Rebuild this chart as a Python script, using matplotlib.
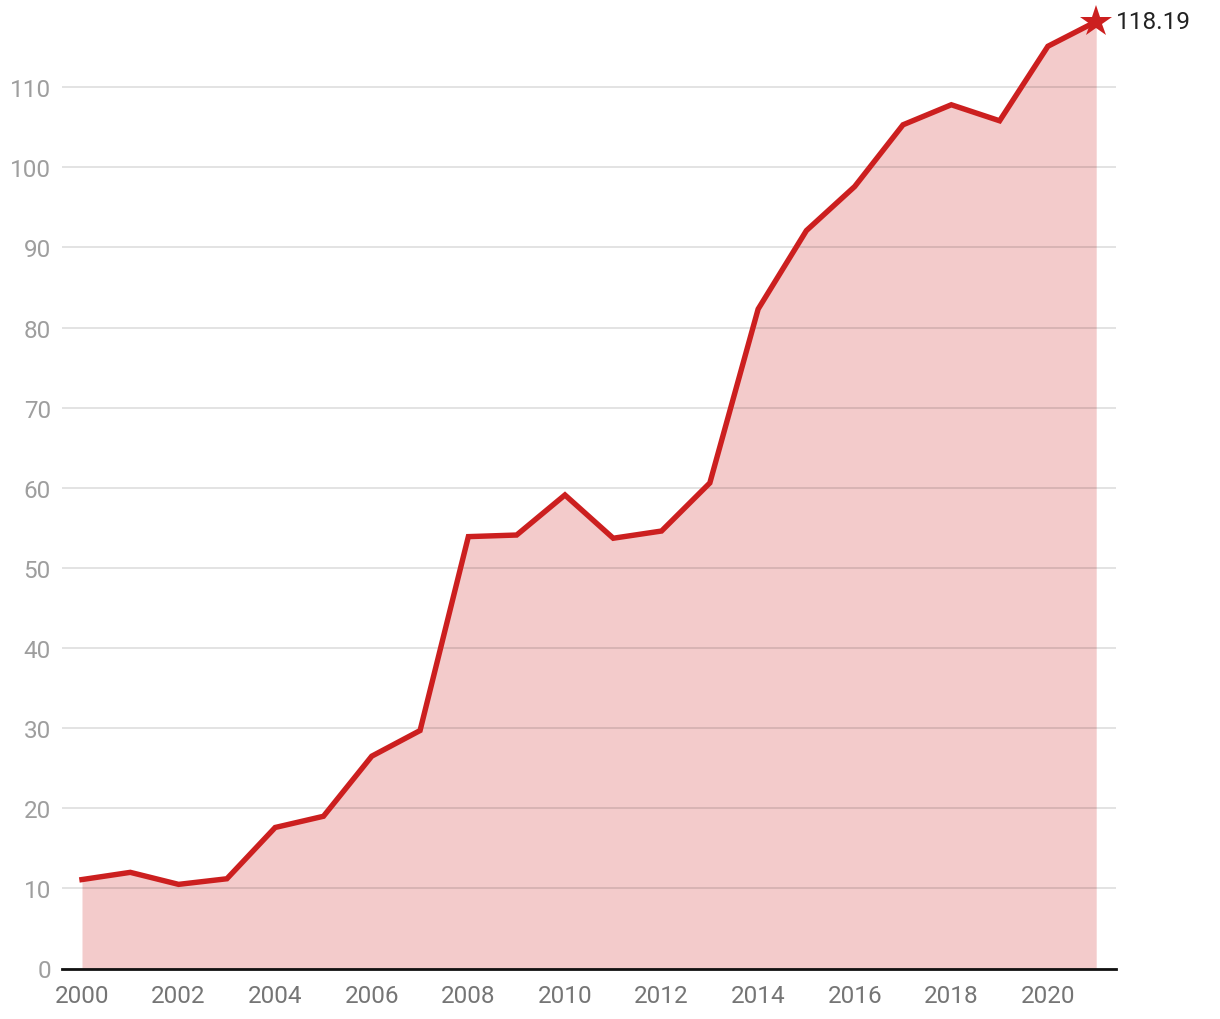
import matplotlib
matplotlib.use("Agg")
import matplotlib.pyplot as plt

# Values
years = list(range(2000, 2022))
values = [11.1, 12.0, 10.5, 11.2, 17.6, 19.0, 26.5, 29.7, 53.9, 54.1, 59.1,
          53.7, 54.6, 60.6, 82.3, 92.1, 97.6, 105.3, 107.8, 105.8, 115.1, 118.19]
y_ticks = list(range(0, 111, 10))
x_ticks = list(range(2000, 2021, 2))

LINE = "#cc1f1f"
FILL = "#f3cbcb"

plt.rcParams["font.family"] = ["Roboto", "DejaVu Sans"]

fig = plt.figure(figsize=(12.2, 10.2), dpi=100)
ax = fig.add_axes([62 / 1220, 50.5 / 1020, (1116 - 62) / 1220, 969.5 / 1020])

ax.fill_between(years, values, 0, color=FILL, lw=0, zorder=1)
ax.plot(years, values, color=LINE, lw=3.9, solid_joinstyle="miter", zorder=3)
ax.plot([years[-1]], [values[-1]], marker="*", color=LINE, markersize=24,
        markeredgewidth=0, zorder=4, clip_on=False)
ax.annotate(f"{values[-1]:.2f}", (years[-1], values[-1]), xytext=(14, 0),
            textcoords="offset points", ha="left", va="center",
            fontsize=17.5, color="#222222", annotation_clip=False)

ax.set_xlim(1999.586, 2021.41)
ax.set_ylim(0, 121.0)
ax.set_yticks(y_ticks)
ax.set_xticks(x_ticks)
ax.grid(axis="y", color="black", alpha=0.12, lw=1.3, zorder=2)
ax.set_axisbelow(False)
for s in ["top", "right", "left"]:
    ax.spines[s].set_visible(False)
ax.spines["bottom"].set_color("#111111")
ax.spines["bottom"].set_linewidth(2)
ax.spines["bottom"].set_zorder(5)
ax.tick_params(axis="both", length=0)
ax.tick_params(axis="y", labelsize=17.5, labelcolor="#9e9e9e", pad=8)
ax.tick_params(axis="x", labelsize=17.5, labelcolor="#757575", pad=11)

fig.savefig("out.png", dpi=100)
